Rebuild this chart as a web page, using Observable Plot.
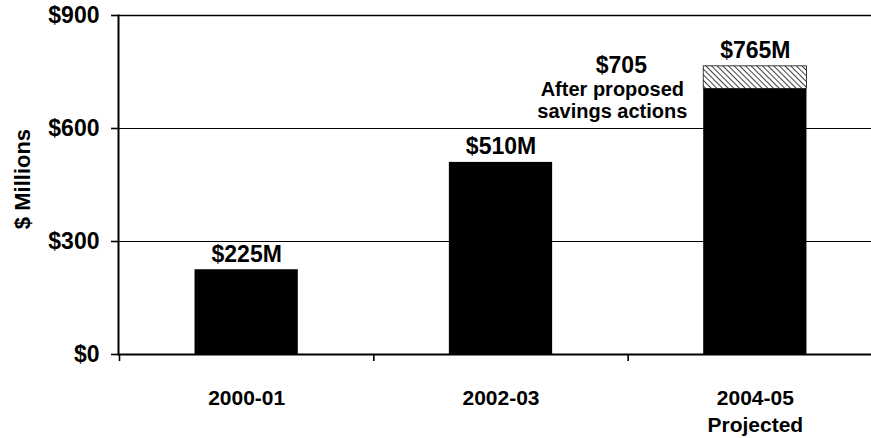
<!DOCTYPE html>
<html>
<head>
<meta charset="utf-8">
<script src="https://cdn.jsdelivr.net/npm/d3@7"></script>
<script src="https://cdn.jsdelivr.net/npm/@observablehq/plot@0.6"></script>
<style>
  html, body { margin: 0; padding: 0; background: #fff; overflow: hidden; }
  svg { font-family: "Liberation Sans", Arial, sans-serif; }
</style>
</head>
<body>
<div id="chart"></div>
<script>
// ---- data ----
const years = ["2000-01", "2002-03", "2004-05"];
const yearLabels = ["2000-01", "2002-03", "2004-05\nProjected"];
const baseValues = [225, 510, 705];      // solid portion
const totalValues = [225, 510, 765];     // total incl. hatched portion
const valueLabels = ["$225M", "$510M", "$765M"];
const noteTitle = "$705";
const noteText = "After proposed\nsavings actions";
const noteValue = 705;
const noteIndex = 2;
const yTicks = [0, 300, 600, 900];
const categoryBoundaries = [-0.5, 0.5, 1.5];

const rows = years.map((y, i) => ({ i, year: y, base: baseValues[i], total: totalValues[i], label: valueLabels[i], cat: yearLabels[i] }));
const hatched = rows.filter(d => d.total > d.base);
const halfBar = 0.203; // half of the bar width in category units

const chart = Plot.plot({
  width: 871,
  height: 438,
  marginLeft: 118,
  marginRight: 0,
  marginTop: 15,
  marginBottom: 84,
  style: { fontFamily: "Liberation Sans, Arial, sans-serif", background: "#fff" },
  x: { type: "linear", domain: [-0.5, 2.5], range: [119, 882], axis: null },
  y: { domain: [0, 900], axis: null },
  marks: [
    Plot.ruleY([300, 600], { stroke: "#000", strokeWidth: 1 }),
    Plot.ruleY([900], { stroke: "#000", strokeWidth: 1.6 }),
    Plot.rectY(rows, { x1: d => d.i - halfBar, x2: d => d.i + halfBar, y1: 0, y2: "base", fill: "#000" }),
    Plot.rectY(hatched, { x1: d => d.i - halfBar, x2: d => d.i + halfBar, y1: "base", y2: "total", fill: "url(#hatch)", stroke: "#000", strokeWidth: 0.75 }),
    Plot.ruleY([0], { stroke: "#000", strokeWidth: 2 }),
    Plot.axisX({ ticks: categoryBoundaries, tickFormat: () => "", tickSize: 7, stroke: "#000", strokeWidth: 1.6, label: null }),
    Plot.axisY({ ticks: yTicks, tickFormat: d => "$" + d, tickSize: 7, tickPadding: 12, fontSize: 23, fontWeight: "bold", label: null, stroke: "#000", strokeWidth: 1.6, color: "#000" }),
    Plot.frame({ anchor: "left", stroke: "#000", strokeWidth: 2 }),
    Plot.text(["$ Millions"], { frameAnchor: "left", textAnchor: "middle", rotate: -90, dx: -96, dy: -6, fontSize: 22, fontWeight: "bold", fill: "#000" }),
    Plot.text(rows, { x: "i", y: "total", text: "label", lineAnchor: "bottom", dy: -8, fontSize: 23, fontWeight: "bold", fill: "#000" }),
    Plot.text(rows, { x: "i", y: 0, text: "cat", lineAnchor: "top", dy: 31, fontSize: 21, fontWeight: "bold", fill: "#000", lineHeight: 1.3 }),
    Plot.text([noteTitle], { x: () => noteIndex, y: () => noteValue, text: d => d, lineAnchor: "bottom", dx: -134, dy: -16, fontSize: 23, fontWeight: "bold", fill: "#000" }),
    Plot.text([noteText], { x: () => noteIndex, y: () => noteValue, text: d => d, lineAnchor: "top", dx: -143, dy: -9, fontSize: 20, fontWeight: "bold", fill: "#000", lineHeight: 1.1 })
  ]
});

// hatch pattern definition
const svgNS = "http://www.w3.org/2000/svg";
const defs = document.createElementNS(svgNS, "defs");
const pat = document.createElementNS(svgNS, "pattern");
pat.setAttribute("id", "hatch");
pat.setAttribute("patternUnits", "userSpaceOnUse");
pat.setAttribute("width", "4");
pat.setAttribute("height", "4");
pat.setAttribute("patternTransform", "rotate(-45)");
const bg = document.createElementNS(svgNS, "rect");
bg.setAttribute("width", "4"); bg.setAttribute("height", "4"); bg.setAttribute("fill", "#fff");
const ln = document.createElementNS(svgNS, "line");
ln.setAttribute("x1", "0"); ln.setAttribute("y1", "0"); ln.setAttribute("x2", "0"); ln.setAttribute("y2", "4");
ln.setAttribute("stroke", "#000"); ln.setAttribute("stroke-width", "1.5");
pat.appendChild(bg); pat.appendChild(ln); defs.appendChild(pat);
chart.insertBefore(defs, chart.firstChild);

document.getElementById("chart").appendChild(chart);
</script>
</body>
</html>
